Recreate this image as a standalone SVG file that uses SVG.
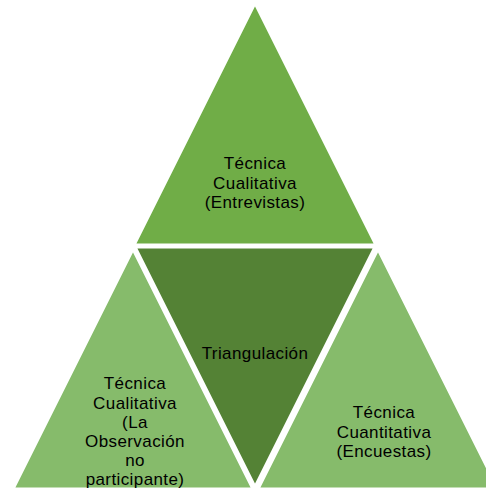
<svg xmlns="http://www.w3.org/2000/svg" width="486" height="488" viewBox="0 0 486 488">
<style>
.t{font-family:"Liberation Sans",Arial,sans-serif;font-size:17px;letter-spacing:0.4px;fill:#000;text-anchor:middle}
.tri{stroke:#fff;stroke-width:3;stroke-linejoin:miter}
</style>
<rect width="486" height="488" fill="#fff"/>
<g id="top">
<polygon class="tri" points="255,3 376,245 134,245" fill="#70AD47"/>
<text class="t" x="255" y="169">Técnica</text>
<text class="t" x="255" y="189">Cualitativa</text>
<text class="t" x="255" y="208">(Entrevistas)</text>
</g>
<g id="left">
<polygon class="tri" points="133,249 253,489 13,489" fill="#86BB6B"/>
<text class="t" x="135" y="389">Técnica</text>
<text class="t" x="135" y="409">Cualitativa</text>
<text class="t" x="135" y="428">(La</text>
<text class="t" x="135" y="447">Observación</text>
<text class="t" x="135" y="466">no</text>
<text class="t" x="135" y="485">participante)</text>
</g>
<g id="right">
<polygon class="tri" points="378,249 498,489 258,489" fill="#86BB6B"/>
<text class="t" x="384" y="418">Técnica</text>
<text class="t" x="384" y="438">Cuantitativa</text>
<text class="t" x="384" y="457">(Encuestas)</text>
</g>
<g id="center">
<polygon class="tri" points="135,247 375,247 255,487" fill="#548235"/>
<text class="t" x="255" y="359">Triangulación</text>
</g>
<g id="connectors"></g>
</svg>
